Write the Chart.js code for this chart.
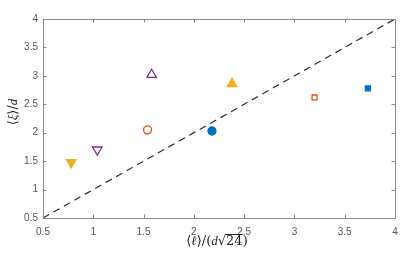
<!DOCTYPE html>
<html>
<head>
<meta charset="utf-8">
<script src="https://cdn.jsdelivr.net/npm/chart.js@4.4.1/dist/chart.umd.min.js"></script>
<style>
  html, body { margin: 0; padding: 0; background: #fff; }
  #wrap { width: 415px; height: 260px; }
</style>
</head>
<body>
<div id="wrap"><canvas id="chart" width="415" height="260"></canvas></div>
<script>
// data
const xVals = [0.78, 1.04, 1.54, 1.58, 2.18, 2.38, 3.20, 3.73];
const yVals = [1.48, 1.70, 2.05, 3.02, 2.03, 2.86, 2.62, 2.78];
const refLine = [0.5, 4];
const tickVals = [0.5, 1, 1.5, 2, 2.5, 3, 3.5, 4];

// marker styling (MATLAB default palette)
const blue = '#0072BD', orange = '#D95319', yellow = '#EDB120', purple = '#7E2F8E';
const mStyle  = ['triangle', 'triangle', 'circle', 'triangle', 'circle', 'triangle', 'rect', 'rect'];
const mRot    = [180, 180, 0, 0, 0, 0, 0, 0];
const mColor  = [yellow, purple, orange, purple, blue, yellow, orange, blue];
const mFilled = [true, false, false, false, true, true, false, true];
const mRadius = [5.5, 5.5, 4, 5.5, 4, 5.5, 3.5, 3.5];

const axisGray = '#8a8a8a';
const labelGray = '#555';

// box + inward ticks, MATLAB style
const boxPlugin = {
  id: 'box',
  afterDraw(chart) {
    const { ctx, chartArea: a, scales: { x, y } } = chart;
    ctx.save();
    ctx.strokeStyle = axisGray;
    ctx.lineWidth = 1;
    ctx.strokeRect(a.left + 0.5, a.top + 0.5, a.right - a.left, a.bottom - a.top);
    ctx.beginPath();
    tickVals.forEach(v => {
      const px = Math.round(x.getPixelForValue(v)) + 0.5;
      ctx.moveTo(px, a.bottom); ctx.lineTo(px, a.bottom - 3.5);
      ctx.moveTo(px, a.top); ctx.lineTo(px, a.top + 3.5);
      const py = Math.round(y.getPixelForValue(v)) + 0.5;
      ctx.moveTo(a.left, py); ctx.lineTo(a.left + 3.5, py);
      ctx.moveTo(a.right, py); ctx.lineTo(a.right - 3.5, py);
    });
    ctx.stroke();

    // axis labels
    ctx.fillStyle = '#222';
    ctx.textBaseline = 'middle';
    // x label: <l>/(d sqrt(24))
    const cx = (a.left + a.right) / 2 - 2, cy = 242;
    const f = '13px "DejaVu Serif", "Liberation Serif", serif';
    const fi = 'italic 13px "Liberation Serif", "DejaVu Serif", serif';
    const parts = [
      ['⟨', f], ['ℓ', fi], ['⟩/(', f], ['d', fi], ['√', f], ['24', f], [')', f]
    ];
    let w = 0;
    parts.forEach(p => { ctx.font = p[1]; w += ctx.measureText(p[0]).width; });
    let px = cx - w / 2;
    let rootStart = 0, rootEnd = 0;
    parts.forEach(p => {
      ctx.font = p[1];
      if (p[0] === '24') rootStart = px;
      ctx.textAlign = 'left';
      ctx.fillText(p[0], px, cy);
      px += ctx.measureText(p[0]).width;
      if (p[0] === '24') rootEnd = px;
    });
    ctx.beginPath();
    ctx.strokeStyle = '#222';
    ctx.moveTo(rootStart - 1, cy - 7.5); ctx.lineTo(rootEnd, cy - 7.5);
    ctx.stroke();

    // y label: <xi>/d rotated
    ctx.translate(14, 112);
    ctx.rotate(-Math.PI / 2);
    const yparts = [['⟨', f], ['ξ', fi], ['⟩/', f], ['d', fi]];
    w = 0;
    yparts.forEach(p => { ctx.font = p[1]; w += ctx.measureText(p[0]).width; });
    px = -w / 2;
    yparts.forEach(p => {
      ctx.font = p[1];
      ctx.fillText(p[0], px, 0);
      px += ctx.measureText(p[0]).width;
    });
    ctx.restore();
  }
};

const tickFont = { family: 'Helvetica, Arial, "Liberation Sans", sans-serif', size: 10 };

new Chart(document.getElementById('chart'), {
  type: 'scatter',
  data: {
    datasets: [
      {
        type: 'line',
        data: refLine.map(v => ({ x: v, y: v })),
        borderColor: '#2b2b2b',
        borderWidth: 1.2,
        borderDash: [7, 5],
        pointRadius: 0,
        fill: false
      },
      {
        data: xVals.map((v, i) => ({ x: v, y: yVals[i] })),
        pointStyle: mStyle,
        rotation: mRot,
        pointRadius: mRadius,
        borderColor: mColor,
        backgroundColor: mColor.map((c, i) => mFilled[i] ? c : '#fff'),
        borderWidth: 1.3
      }
    ]
  },
  options: {
    responsive: false,
    animation: false,
    layout: { padding: { top: 19, right: 20, left: 0, bottom: 0 } },
    plugins: { legend: { display: false }, tooltip: { enabled: false } },
    scales: {
      x: {
        type: 'linear', min: 0.5, max: 4,
        afterBuildTicks: s => { s.ticks = tickVals.map(v => ({ value: v })); },
        afterFit: s => { s.height = 42; },
        grid: { display: false },
        border: { display: false },
        ticks: {
          color: labelGray, padding: 0, font: tickFont,
          maxRotation: 0, autoSkip: false,
          callback: v => String(v)
        }
      },
      y: {
        type: 'linear', min: 0.5, max: 4,
        afterBuildTicks: s => { s.ticks = tickVals.map(v => ({ value: v })); },
        afterFit: s => { s.width = 43; },
        grid: { display: false, drawTicks: false, tickLength: 0 },
        border: { display: false },
        ticks: {
          color: labelGray, padding: 5, font: tickFont,
          autoSkip: false,
          callback: v => String(v)
        }
      }
    }
  },
  plugins: [boxPlugin]
});
</script>
</body>
</html>
